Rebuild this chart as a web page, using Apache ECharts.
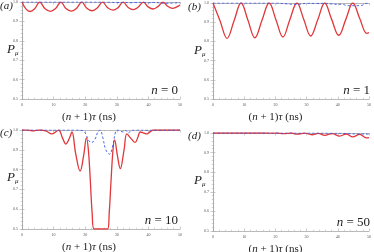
<!DOCTYPE html>
<html><head><meta charset="utf-8">
<script src="https://cdn.jsdelivr.net/npm/echarts@6/dist/echarts.min.js"></script>
<style>html,body{margin:0;padding:0;background:#fff}#c{width:374px;height:252px}</style>
</head><body><div id="c"></div>
<script>
// ---- data (x in ns, y = P_mu) ----
const xTicks = [0, 10, 20, 30, 40, 50];
const yTicks = [0.5, 0.6, 0.7, 0.8, 0.9, 1.0];
const panelLabels = ['(a)', '(b)', '(c)', '(d)'];
const nValues = ['0', '1', '10', '50'];

const aRed = [[0,1.0],[1.3,0.963],[2.6,0.951],[4.0,0.965],[5.6,0.999],[7.3,0.965],[9.0,0.952],[10.6,0.966],[12.3,0.999],[13.9,0.966],[15.6,0.953],[17.2,0.967],[18.9,0.999],[20.5,0.968],[22.2,0.955],[23.8,0.969],[25.5,0.999],[27.1,0.97],[28.8,0.958],[30.4,0.971],[32.0,0.999],[33.6,0.972],[35.2,0.961],[36.8,0.974],[38.4,0.999],[39.9,0.975],[41.5,0.964],[43.0,0.976],[44.6,0.999],[46.1,0.978],[47.6,0.967],[49.0,0.975],[50,0.985]];
const aBlue = [[0,1.0],[10,1.0],[20,1.0],[28,0.999],[30,0.997],[32,0.999],[34,0.996],[36,0.998],[38,0.999],[40,0.996],[42,0.998],[44,0.994],[46,0.993],[48,0.995],[50,0.996]];

const bRed = [[0,1.0],[2.25,0.908],[4.5,0.816],[6.75,0.908],[9.0,1.0],[11.2,0.91],[13.4,0.819],[15.7,0.91],[18.0,1.0],[20.2,0.912],[22.4,0.823],[24.6,0.912],[26.9,1.0],[29.1,0.914],[31.3,0.828],[33.6,0.914],[35.8,1.0],[38.0,0.916],[40.3,0.832],[42.6,0.916],[44.8,1.0],[47.0,0.921],[49.3,0.842],[50,0.846]];
const bBlue = [[0,1.0],[10,1.0],[20,1.0],[24,0.995],[26,0.993],[28,0.994],[30,0.999],[33,0.998],[36,0.999],[38,0.995],[40,0.993],[41.5,0.994],[42.5,0.988],[44,0.986],[46,0.986],[47.5,0.987],[49,0.998],[50,0.999]];

const cRed = [[0,1.0],[2,0.999],[3.7,0.996],[5.5,1.0],[7.5,0.996],[9.5,0.98],[11.6,0.999],[12.8,0.96],[13.9,0.929],[15.0,0.958],[15.8,0.99],[17.0,0.88],[18.4,0.793],[19.5,0.87],[20.4,0.96],[21.0,0.9],[21.6,0.75],[22.2,0.58],[22.8,0.5],[25,0.5],[27.1,0.5],[27.6,0.58],[28.2,0.75],[28.8,0.9],[29.3,0.95],[30.2,0.87],[31.1,0.805],[32.3,0.9],[33.2,0.98],[34.6,0.955],[35.8,0.937],[36.7,0.965],[37.4,0.99],[38.4,0.986],[39.5,0.98],[40.6,0.992],[41.6,1.0],[45,1.0],[50,1.0]];
const cBlue = [[0,1.0],[10,1.0],[17,1.0],[19,0.998],[19.8,0.99],[20.4,0.972],[21.2,0.945],[22.0,0.937],[23.0,0.95],[24.0,0.99],[24.7,1.0],[25.6,0.96],[26.5,0.9],[27.7,0.878],[28.7,0.92],[29.6,0.99],[30.2,1.0],[31.2,0.994],[32.0,0.99],[32.8,0.998],[33.7,0.985],[34.6,0.998],[36,1.0],[40,0.999],[50,1.0]];

const dRed = [[0,1.0],[10,1.0],[17,1.0],[18.5,0.999],[20.5,1.0],[22.7,0.997],[25.0,1.0],[27.0,0.994],[29.5,0.999],[31.7,0.991],[33.8,0.998],[35.8,0.988],[38.2,0.997],[40.6,0.984],[42.7,0.995],[44.8,0.98],[47.0,0.993],[49.3,0.975],[50,0.977]];
const dBlue = [[0,1.0],[10,1.0],[20,1.0],[30,1.0],[38,0.999],[42,0.998],[44,0.996],[46,0.995],[48,0.995],[50,0.994]];

const reds = [aRed, bRed, cRed, dRed];
const blues = [aBlue, bBlue, cBlue, dBlue];

// ---- layout ----
const grids = [
  {left: 22, top: 2, width: 158, height: 97},
  {left: 213, top: 3, width: 159, height: 96},
  {left: 22, top: 130, width: 158, height: 99},
  {left: 213, top: 133, width: 159, height: 98}
];
const SERIF = '"Liberation Serif","DejaVu Serif",serif';
const frame = '#a8a8a8';

const chart = echarts.init(document.getElementById('c'), null, {renderer: 'canvas'});
const xAxes = [], yAxes = [], series = [], graphics = [];
grids.forEach((g, i) => {
  const common = {
    gridIndex: i, type: 'value',
    axisLine: {show: true, lineStyle: {color: frame, width: 0.8}},
    axisTick: {show: true, inside: true, length: 2.5, lineStyle: {color: frame, width: 0.6}},
    minorTick: {show: true, splitNumber: 5, length: 1.3, lineStyle: {color: frame, width: 0.5}},
    splitLine: {show: false}
  };
  xAxes.push(Object.assign({}, common, {
    position: 'bottom', min: xTicks[0], max: xTicks[xTicks.length - 1], interval: 10,
    axisLabel: {fontSize: 4, color: '#555', margin: 4, fontFamily: SERIF}
  }));
  xAxes.push(Object.assign({}, common, {
    position: 'top', min: xTicks[0], max: xTicks[xTicks.length - 1], interval: 10,
    axisLabel: {show: false}
  }));
  yAxes.push(Object.assign({}, common, {
    position: 'left', min: yTicks[0], max: yTicks[yTicks.length - 1], interval: 0.1,
    axisLabel: {fontSize: 4, color: '#555', margin: 4, fontFamily: SERIF, formatter: v => v.toFixed(1)}
  }));
  yAxes.push(Object.assign({}, common, {
    position: 'right', min: yTicks[0], max: yTicks[yTicks.length - 1], interval: 0.1,
    axisLabel: {show: false}
  }));
  series.push({
    type: 'line', xAxisIndex: 2 * i, yAxisIndex: 2 * i, data: reds[i], showSymbol: false,
    smooth: 0.4, lineStyle: {color: '#e0383a', width: 1.3}, z: 2, animation: false
  });
  series.push({
    type: 'line', xAxisIndex: 2 * i, yAxisIndex: 2 * i, data: blues[i], showSymbol: false,
    smooth: 0.4, lineStyle: {color: '#3a56e8', width: 0.9, type: [2.5, 2]}, z: 3, animation: false
  });
  const L = g.left, T = g.top, R = g.left + g.width, B = g.top + g.height;
  graphics.push({type: 'text', left: L - 22 + (i % 2 ? -3 : 0), top: T - 1 + (i >= 2 ? -1 : 0),
    style: {text: panelLabels[i], font: 'italic 11px ' + SERIF, fill: '#222'}});
  graphics.push({type: 'text', left: L - 15 + (i % 2 ? -4 : 0), top: T + 41,
    style: {rich: {p: {font: 'italic 13px ' + SERIF, fill: '#222'}, s: {font: 'italic 7px ' + SERIF, fill: '#222', padding: [7, 0, 0, 0]}},
      text: '{p|P}{s|μ}'}});
  graphics.push({type: 'text', right: 374 - R + 2, top: B - 15,
    style: {rich: {n: {font: 'italic 13px ' + SERIF, fill: '#222'}, t: {font: '13px ' + SERIF, fill: '#222'}},
      text: '{n|n}{t| = ' + nValues[i] + '}'}});
  graphics.push({type: 'text', left: (L + R) / 2 - 30 + (i % 2 ? -14 : -9), top: B + 13,
    style: {rich: {t: {font: '11px ' + SERIF, fill: '#222'}, i: {font: 'italic 11px ' + SERIF, fill: '#222'}},
      text: '{t|(}{i|n}{t| + 1)}{i|τ}{t| (ns)}'}});
});

chart.setOption({
  animation: false,
  backgroundColor: '#fff',
  grid: grids.map(g => Object.assign({show: false, containLabel: false}, g)),
  xAxis: xAxes, yAxis: yAxes, series: series, graphic: graphics
});
</script></body></html>
